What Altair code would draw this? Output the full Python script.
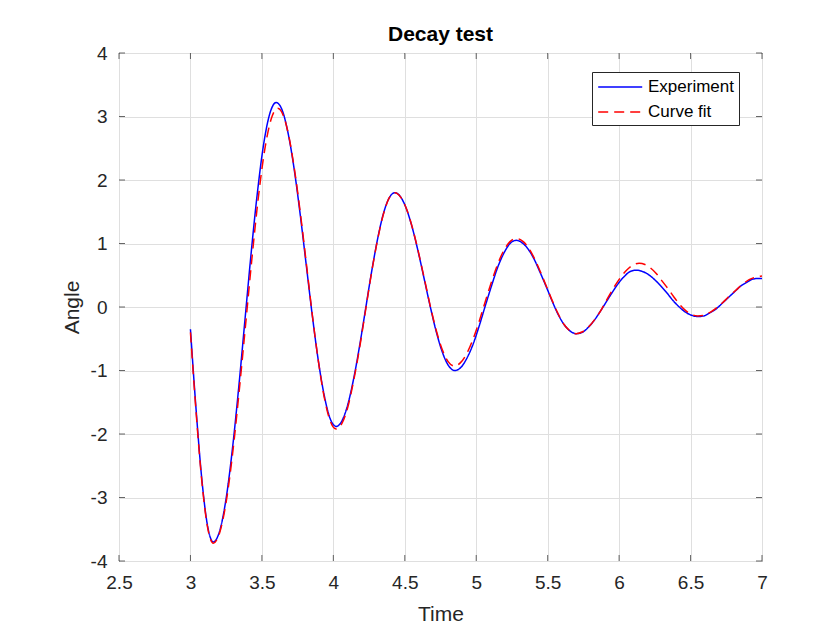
import altair as alt
import pandas as pd

# Experiment (blue, solid)
exp_t = [3.00, 3.04, 3.08, 3.12, 3.16, 3.204, 3.248, 3.292, 3.336, 3.380, 3.424, 3.468, 3.512, 3.556, 3.600,
         3.642, 3.684, 3.726, 3.768, 3.810, 3.852, 3.894, 3.936, 3.978, 4.020,
         4.061, 4.102, 4.143, 4.184, 4.225, 4.266, 4.307, 4.348, 4.389, 4.430,
         4.472, 4.514, 4.556, 4.598, 4.640, 4.682, 4.724, 4.766, 4.808, 4.850,
         4.893, 4.936, 4.979, 5.022, 5.065, 5.108, 5.151, 5.194, 5.237, 5.280,
         5.322, 5.364, 5.406, 5.448, 5.490, 5.532, 5.574, 5.616, 5.658, 5.700,
         5.742, 5.784, 5.826, 5.868, 5.910, 5.952, 5.994, 6.036, 6.078, 6.120,
         6.163, 6.206, 6.249, 6.292, 6.335, 6.378, 6.421, 6.464, 6.507, 6.550,
         6.593, 6.636, 6.679, 6.722, 6.765, 6.808, 6.851, 6.894, 6.937, 6.980, 7.000]
exp_y = [-0.35, -1.63, -2.72, -3.45, -3.70, -3.53, -3.04, -2.27, -1.31, -0.24, 0.83, 1.79, 2.56, 3.05, 3.22,
         3.10, 2.73, 2.17, 1.46, 0.67, -0.12, -0.83, -1.39, -1.76, -1.88,
         -1.79, -1.53, -1.12, -0.61, -0.04, 0.53, 1.04, 1.45, 1.71, 1.80,
         1.73, 1.53, 1.22, 0.83, 0.40, -0.03, -0.42, -0.73, -0.93, -1.00,
         -0.95, -0.80, -0.58, -0.29, 0.03, 0.34, 0.63, 0.85, 1.00, 1.05,
         1.01, 0.91, 0.75, 0.54, 0.32, 0.09, -0.12, -0.28, -0.38, -0.42,
         -0.40, -0.32, -0.21, -0.07, 0.08, 0.23, 0.37, 0.48, 0.56, 0.58,
         0.56, 0.51, 0.43, 0.33, 0.22, 0.10, 0.00, -0.08, -0.13, -0.15,
         -0.14, -0.09, -0.03, 0.06, 0.15, 0.24, 0.33, 0.39, 0.44, 0.45, 0.45]

# Curve fit (red, dashed)
fit_t = [3.00, 3.04, 3.08, 3.12, 3.160, 3.205, 3.250, 3.295, 3.340, 3.385, 3.430, 3.475, 3.520, 3.565, 3.610,
         3.651, 3.692, 3.733, 3.774, 3.815, 3.856, 3.897, 3.938, 3.979, 4.020,
         4.061, 4.102, 4.143, 4.184, 4.225, 4.266, 4.307, 4.348, 4.389, 4.430,
         4.4715, 4.513, 4.5545, 4.596, 4.6375, 4.679, 4.7205, 4.762, 4.8035, 4.845,
         4.8885, 4.932, 4.9755, 5.019, 5.0625, 5.106, 5.1495, 5.193, 5.2365, 5.280,
         5.322, 5.364, 5.406, 5.448, 5.490, 5.532, 5.574, 5.616, 5.658, 5.700,
         5.744, 5.788, 5.832, 5.876, 5.920, 5.964, 6.008, 6.052, 6.096, 6.140,
         6.181, 6.222, 6.263, 6.304, 6.345, 6.386, 6.427, 6.468, 6.509, 6.550,
         6.595, 6.640, 6.685, 6.730, 6.775, 6.820, 6.865, 6.910, 6.955, 7.000]
fit_y = [-0.40, -1.67, -2.75, -3.47, -3.72, -3.55, -3.07, -2.31, -1.35, -0.30, 0.76, 1.72, 2.48, 2.96, 3.13,
         3.01, 2.65, 2.09, 1.39, 0.61, -0.18, -0.88, -1.44, -1.80, -1.92,
         -1.83, -1.57, -1.15, -0.64, -0.06, 0.52, 1.03, 1.44, 1.71, 1.80,
         1.73, 1.54, 1.24, 0.86, 0.44, 0.01, -0.37, -0.67, -0.86, -0.93,
         -0.88, -0.74, -0.52, -0.24, 0.08, 0.39, 0.67, 0.89, 1.03, 1.08,
         1.04, 0.94, 0.77, 0.56, 0.33, 0.10, -0.11, -0.28, -0.38, -0.42,
         -0.39, -0.31, -0.19, -0.04, 0.14, 0.31, 0.46, 0.58, 0.66, 0.69,
         0.67, 0.61, 0.52, 0.40, 0.28, 0.15, 0.03, -0.06, -0.12, -0.14,
         -0.13, -0.08, -0.01, 0.08, 0.18, 0.27, 0.36, 0.43, 0.47, 0.49]

series_names = ["Experiment", "Curve fit"]
x_ticks = [2.5, 3, 3.5, 4, 4.5, 5, 5.5, 6, 6.5, 7]
y_ticks = [-4, -3, -2, -1, 0, 1, 2, 3, 4]

FONT = "Liberation Sans"
AX = "#262626"

df = pd.concat([
    pd.DataFrame({"Time": exp_t, "Angle": exp_y, "Series": series_names[0], "order": range(len(exp_t))}),
    pd.DataFrame({"Time": fit_t, "Angle": fit_y, "Series": series_names[1], "order": range(len(fit_t))}),
])

xscale = alt.Scale(domain=[2.5, 7], nice=False, zero=False)
yscale = alt.Scale(domain=[-4, 4], nice=False, zero=False)

lines = alt.Chart(df).mark_line(strokeWidth=1.5, clip=True, interpolate="monotone").encode(
    x=alt.X("Time:Q", scale=xscale, title="Time",
            axis=alt.Axis(values=x_ticks, labelExpr="datum.value + ''", labelFlush=False,
                          titlePadding=11)),
    y=alt.Y("Angle:Q", scale=yscale, title="Angle",
            axis=alt.Axis(values=y_ticks, labelExpr="datum.value + ''", labelFlush=False,
                          titlePadding=8)),
    color=alt.Color("Series:N", scale=alt.Scale(domain=series_names, range=["#0000ff", "#ff0000"]),
                    legend=alt.Legend(title=None, orient="none", legendX=473, legendY=19,
                                      symbolType="M-1,0H4", symbolSize=310, symbolStrokeWidth=1.5,
                                      labelOffset=31, labelFontSize=17, labelFont=FONT,
                                      labelColor="#000000", strokeColor=AX, fillColor="white",
                                      padding=5, rowPadding=7, cornerRadius=0)),
    strokeDash=alt.StrokeDash("Series:N", scale=alt.Scale(domain=series_names, range=[[1, 0], [10, 6]]),
                              legend=None),
    order="order:Q",
    detail="Series:N",
)

xt = pd.DataFrame({"t": x_ticks})
yt = pd.DataFrame({"v": y_ticks})

bottom_ticks = alt.Chart(xt).mark_tick(orient="vertical", size=6, thickness=1, color=AX, yOffset=-3).encode(
    x=alt.X("t:Q", scale=xscale), y=alt.datum(-4))
top_ticks = alt.Chart(xt).mark_tick(orient="vertical", size=6, thickness=1, color=AX, yOffset=3).encode(
    x=alt.X("t:Q", scale=xscale), y=alt.datum(4))
left_ticks = alt.Chart(yt).mark_tick(orient="horizontal", size=6, thickness=1, color=AX, xOffset=3).encode(
    y=alt.Y("v:Q", scale=yscale), x=alt.datum(2.5))
right_ticks = alt.Chart(yt).mark_tick(orient="horizontal", size=6, thickness=1, color=AX, xOffset=-3).encode(
    y=alt.Y("v:Q", scale=yscale), x=alt.datum(7))

chart = alt.layer(lines, bottom_ticks, top_ticks, left_ticks, right_ticks).properties(
    width=643, height=508,
    title=alt.Title("Decay test", fontSize=21, font=FONT, fontWeight="bold", color="#000000", offset=-1),
    autosize=alt.AutoSizeParams(type="none"),
    padding={"left": 119, "top": 53, "right": 73, "bottom": 69},
    background="white",
).configure_view(
    stroke=AX, strokeWidth=1
).configure_axis(
    domain=False, ticks=False, grid=True, gridColor="#dfdfdf", gridWidth=1,
    labelFont=FONT, labelFontSize=19, labelColor=AX, labelPadding=12,
    titleFont=FONT, titleFontSize=21, titleFontWeight="normal", titleColor=AX,
)

chart.save("out.html", embed_options={"renderer": "svg", "actions": False})
